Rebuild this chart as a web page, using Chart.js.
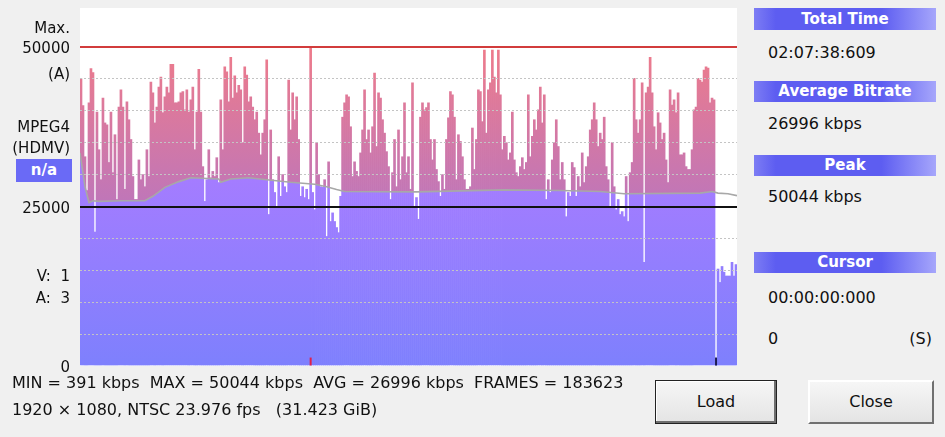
<!DOCTYPE html>
<html>
<head>
<meta charset="utf-8">
<script src="https://cdn.jsdelivr.net/npm/chart.js@4.4.0/dist/chart.umd.min.js"></script>
<style>
body { margin: 0; background: #f0f0f0; font-family: "DejaVu Sans", sans-serif; font-size: 16px; color: #111; }
#page { position: relative; width: 945px; height: 437px; overflow: hidden; }
#wrap { position: absolute; left: 0; top: 0; width: 745px; height: 380px; }
.abs { position: absolute; white-space: pre; line-height: 18px; }
.head { position: absolute; left: 754px; width: 182px; height: 21px; line-height: 21px; text-align: center;
        color: #fff; font-weight: bold; font-size: 15px;
        background: linear-gradient(to right, #7d7df4, #5d5df1 12%, #5d5df1 70%, #a6a6fb); }
.btn { position: absolute; top: 380px; height: 44px; box-sizing: border-box; text-align: center;
       background: linear-gradient(#f6f6f6, #e4e4e4); }
#load { left: 655px; width: 122px; border: 1px solid #222; line-height: 42px;
        box-shadow: inset -2px -2px 0 #6e6e6e, inset 1px 1px 0 #fff; }
#close { left: 808px; width: 126px; line-height: 40px;
         border-top: 2px solid #fff; border-left: 2px solid #fff;
         border-right: 2px solid #707070; border-bottom: 2px solid #707070; }
#na { position: absolute; left: 16px; top: 159px; width: 56px; height: 23px; line-height: 23px;
      background: #6a6af6; color: #fff; font-weight: bold; font-size: 15px; text-align: center; }
</style>
</head>
<body>
<div id="page">
  <div id="wrap"><canvas id="plot" width="745" height="380"></canvas></div>
  <div id="na">n/a</div>

  <div class="head" style="top:8px;height:22px;line-height:22px">Total Time</div>
  <div class="abs" style="left:768px;top:44px">02:07:38:609</div>
  <div class="head" style="top:81px">Average Bitrate</div>
  <div class="abs" style="left:768px;top:115px">26996 kbps</div>
  <div class="head" style="top:155px">Peak</div>
  <div class="abs" style="left:768px;top:188px">50044 kbps</div>
  <div class="head" style="top:252px">Cursor</div>
  <div class="abs" style="left:768px;top:289px">00:00:00:000</div>
  <div class="abs" style="left:768px;top:330px">0</div>
  <div class="abs" style="left:896px;top:330px;width:36px;text-align:right">(S)</div>

  <div class="abs" style="left:12px;top:374px">MIN = 391 kbps  MAX = 50044 kbps  AVG = 26996 kbps  FRAMES = 183623</div>
  <div class="abs" style="left:12px;top:401px">1920 × 1080, NTSC 23.976 fps   (31.423 GiB)</div>

  <div class="btn" id="load">Load</div>
  <div class="btn" id="close">Close</div>
</div>
<script>
// bitrate per column, kbps (left to right)
var bitrate = [
  45000, 40800, 32800, 27500, 41250, 46600, 46000, 21000, 39800, 33900,
  29200, 42000, 38100, 37800, 31900, 39800, 30300, 36250, 26100, 40600,
  43300, 40600, 27700, 41400, 38600, 35500, 29700, 26100, 26100, 32300,
  29200, 30000, 28100, 33900, 29700, 44500, 42800, 38100, 40600, 43700,
  45300, 39700, 42200, 43700, 42800, 47300, 47300, 41250, 41250, 41400,
  42800, 43000, 40150, 43300, 39800, 41700, 43700, 33900, 39800, 46500,
  39800, 31250, 25800, 29200, 33900, 29500, 30500, 29700, 32650, 28750,
  41700, 33900, 46900, 46100, 41400, 48400, 42000, 45500, 42800, 44000,
  43300, 35000, 46900, 45600,
  41400, 42200, 40600, 38600, 39800, 36500, 33100, 36500, 38600, 48000,
  23750, 37000, 29200, 27200, 25000, 32800, 26600, 30000, 28100, 27200,
  44800, 37000, 42800, 38600, 42200, 35500, 26600, 28100, 26400, 27700,
  26100, 50044, 27200, 24500, 35000, 30000, 28100, 28000, 29200, 20300,
  32000, 22650, 24000, 22650, 21700, 20900, 26600, 39000, 41250, 42500,
  42200, 37500, 29700, 32000, 30500, 29700, 33400, 37000, 43300, 35500,
  37000, 33400, 37500, 45900, 34400, 42800, 42000, 38600, 36500, 33600,
  31250, 26100, 30300, 35500, 28100, 37000, 29200, 32800, 41250, 30300,
  32800, 27700, 44400, 25000,
  26400, 23000, 39000, 41250, 40150, 40500, 41250, 35500, 32300, 35500,
  30800, 28900, 26600, 30000, 27700, 35500, 38900, 43000, 42500, 39000,
  29200, 36250, 35200, 32800, 29200, 27700, 27700, 28100, 37300, 30800,
  35500, 43300, 43000, 38300, 49500, 36500, 43300, 44400, 49500, 45300,
  42800, 49500, 42500, 33900, 36000, 35000, 32300, 33400, 39800, 32300,
  30300, 29700, 31250, 32650, 30800, 31900, 42500, 32800, 36000, 38600,
  37000, 40150, 43700, 38100, 42500, 26100, 29200, 27200, 32300, 35000,
  38600, 34400, 29200, 31900, 29200, 23400, 27200, 26600, 31900, 31100,
  26600, 29700, 28100, 33400,
  28750, 31250, 32800, 37000, 38600, 41250, 38600, 34400, 36500, 35500,
  39000, 31250, 29200, 25000, 35000, 28100, 24500, 26100, 23750, 24200,
  23400, 29700, 22650, 30300, 31900, 45100, 38600, 36500, 38600, 44400,
  16250, 42800, 43700, 48400, 42800, 37500, 33900, 39700, 38100, 35500,
  36500, 32300, 28750, 43300, 40900, 41700, 39700, 42800, 33100, 33100,
  33400, 31250, 30800, 30800, 33900, 40150, 40600, 45100, 44800, 44500,
  46400, 46900, 46700, 41250, 42000, 41700, 391, 15200, 13100, 15600,
  14700, 14100, 14100, 14100, 16250, 14100, 15900
];

// running average (grey line): column position and kbps
var avgIndex = [-0.5, 2, 4, 6, 9, 20, 32, 36, 42, 49, 55, 69, 70, 75, 84, 93, 105, 117, 123, 128,
                132, 168, 212, 240, 260, 272, 310, 316, 319, 324, 328.5];
var avgKbps = [33400, 28100, 25600, 25900, 25800, 25900, 25900, 26600, 28000, 28900, 29500, 29300,
               28800, 29300, 29500, 29200, 28800, 28500, 28100, 27650, 27350, 27300, 27600, 27500,
               27350, 27000, 27100, 27350, 27100, 27000, 26700];

// left side labels and where they sit on the kbps scale
var labelValues = [53135, 50000, 45925, 37618, 34326, 25000, 14263, 10815, 0];
var labelTexts = ["Max.", "50000", "(A)", "MPEG4", "(HDMV)", "25000", "V:  1", "A:  3", "0"];
var gridValues = [5000, 10000, 15000, 20000, 30000, 35000, 40000, 45000];
var yMax = 56113;

// cursor marks at the bottom edge
var markerIndex = [115, 318];
var markerColors = ["#e0204a", "#1c1c52"];

function avgPoints() {
  return avgIndex.map(function(x, i) { return {x: x, y: avgKbps[i]}; });
}

var pinkGrad = null, purpleGrad = null;
function pinkFill(c) {
  var chart = c.chart;
  if (!chart.chartArea) return "#d878a0";
  if (!pinkGrad) {
    var y = chart.scales.y;
    pinkGrad = chart.ctx.createLinearGradient(0, y.getPixelForValue(50000), 0, y.getPixelForValue(26000));
    pinkGrad.addColorStop(0, "#ee7b8a");
    pinkGrad.addColorStop(1, "#c076b8");
  }
  return pinkGrad;
}
function purpleFill(c) {
  var chart = c.chart;
  if (!chart.chartArea) return "#9080ff";
  if (!purpleGrad) {
    var y = chart.scales.y;
    purpleGrad = chart.ctx.createLinearGradient(0, y.getPixelForValue(30000), 0, y.getPixelForValue(0));
    purpleGrad.addColorStop(0, "#a57cff");
    purpleGrad.addColorStop(1, "#7e80fd");
  }
  return purpleGrad;
}

// purple area only paints over the bars; white plot background goes underneath
var layering = {
  id: "layering",
  afterDatasetDraw: function(chart, args) {
    if (args.index === 0) chart.ctx.globalCompositeOperation = "source-atop";
    if (args.index === 1) chart.ctx.globalCompositeOperation = "source-over";
  },
  afterDraw: function(chart) {
    var a = chart.chartArea, ctx = chart.ctx;
    ctx.save();
    ctx.globalCompositeOperation = "destination-over";
    ctx.fillStyle = "#ffffff";
    ctx.fillRect(a.left, a.top, a.right - a.left, a.bottom - a.top);
    ctx.restore();
  }
};

function noPad(s, w) {
  s.width = w;
  s.paddingTop = 0;
  s.paddingBottom = 0;
}

new Chart(document.getElementById("plot"), {
  data: {
    labels: bitrate.map(function(v, i) { return i; }),
    datasets: [
      { type: "bar", data: bitrate, yAxisID: "y", backgroundColor: pinkFill, borderWidth: 0,
        barPercentage: 1, categoryPercentage: 1, order: 3 },
      { type: "line", data: avgPoints(), yAxisID: "y", borderColor: "transparent", borderWidth: 0,
        pointRadius: 0, fill: "origin", backgroundColor: purpleFill, order: 2 },
      { type: "line", data: avgPoints(), yAxisID: "y", borderColor: "#a8a8a8", borderWidth: 1.6,
        pointRadius: 0, fill: false, order: 1 },
      { type: "scatter", yAxisID: "y",
        data: markerIndex.map(function(x) { return {x: x, y: 700}; }),
        pointStyle: "line", rotation: 90, radius: 4, borderWidth: 2, borderColor: markerColors, order: 0 }
    ]
  },
  options: {
    responsive: false,
    animation: false,
    devicePixelRatio: 1,
    layout: { padding: { top: 8, right: 8, bottom: 14, left: 0 } },
    plugins: { legend: { display: false }, tooltip: { enabled: false }, filler: { drawTime: "beforeDatasetDraw" } },
    scales: {
      x: { type: "linear", min: -0.5, max: bitrate.length - 0.5, display: false, offset: false,
           grid: { offset: false } },
      y: {
        type: "linear", position: "left", min: 0, max: yMax,
        afterBuildTicks: function(s) { s.ticks = labelValues.map(function(v) { return {value: v}; }); },
        afterFit: function(s) { noPad(s, 80); },
        ticks: { autoSkip: false, padding: 10, labelOffset: 2.5, color: "#111",
                 font: { family: "DejaVu Sans", size: 15 },
                 callback: function(v, i) { return labelTexts[i]; } },
        grid: { z: 2, drawTicks: false, lineWidth: 2,
                color: function(c) {
                  if (!c.tick) return "transparent";
                  if (c.tick.value === 50000) return "#d23c3c";
                  if (c.tick.value === 25000) return "#111111";
                  return "transparent";
                } },
        border: { display: false }
      },
      yg: {
        type: "linear", position: "left", min: 0, max: yMax,
        afterBuildTicks: function(s) { s.ticks = gridValues.map(function(v) { return {value: v}; }); },
        afterFit: function(s) { noPad(s, 0); },
        ticks: { display: false },
        grid: { z: 1, drawTicks: false, color: "#c4c4c4", lineWidth: 1 },
        border: { display: false, dash: [2, 2] }
      }
    }
  },
  plugins: [layering]
});
</script>
</body>
</html>
